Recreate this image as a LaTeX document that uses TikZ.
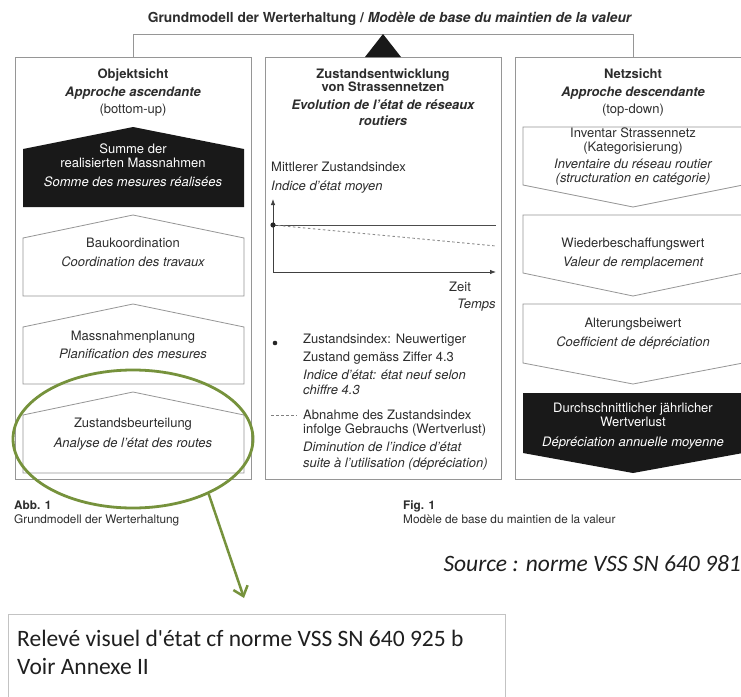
\documentclass[tikz,border=0pt]{standalone}
\usepackage{fontspec}
\setmainfont{TeX Gyre Heros}
\newfontfamily\calib{Carlito}
\usetikzlibrary{arrows.meta,shapes.geometric}
\definecolor{txt}{RGB}{45,45,45}
\definecolor{frame}{RGB}{150,150,150}
\definecolor{dark}{RGB}{25,25,25}
\definecolor{olive}{RGB}{118,146,60}
\definecolor{lightframe}{RGB}{195,195,195}
\newcommand\fsz{\fontsize{13}{15}\selectfont}
\newcommand\capsz{\fontsize{11.8}{13}\selectfont}
\tikzset{
  t/.style={inner sep=0pt, text=txt, anchor=base, yshift=-4.3pt, font=\fsz},
  tb/.style={t, font=\fsz\bfseries},
  ti/.style={t, font=\fsz\itshape},
  tbi/.style={t, font=\fsz\bfseries\itshape},
  w/.style={t, text=white},
  wi/.style={ti, text=white},
  captxt/.style={t, anchor=base west, yshift=-4pt, font=\capsz},
  captxtb/.style={captxt, font=\capsz\bfseries},
  colframe/.style={draw=frame, line width=0.9pt, minimum width=236pt, minimum height=422pt, inner sep=0pt},
  house/.style={draw=frame, line width=0.8pt, fill=white},
  darkhouse/.style={fill=dark},
  axis/.style={draw=black!75, line width=0.8pt, -{Latex[length=6pt,width=4.5pt]}},
  cal/.style={inner sep=0pt, text=black!88, anchor=base west, yshift=-6.5pt, font=\calib\fontsize{23.5}{27}\selectfont},
}
\begin{document}
\begin{tikzpicture}[x=1pt,y=-1pt]
\path[use as bounding box] (0,0) rectangle (741,696);
\clip (0,0) rectangle (741,696);
\fill[white] (0,0) rectangle (741,696);

% title
\node[tb, font=\fontsize{13.8}{16}\selectfont\bfseries, yshift=-0.3pt] (title) at (390,18)
  {Grundmodell der Werterhaltung / \textit{Modèle de base du maintien de la valeur}};

% column frames
\node[colframe] (colL) at (133,268) {};
\node[colframe] (colM) at (383,268) {};
\node[colframe] (colR) at (633,268) {};

% bracket and triangle
\coordinate (bl) at (133,34);
\coordinate (br) at (633,34);
\draw[frame, line width=0.9pt] (colL.north) -- (bl) -- (br) -- (colR.north);
\fill[dark] (383,34) -- (401,57) -- (365,57) -- cycle;

% left column houses
\path[darkhouse] (133,127) -- (244,149) -- (244,207) -- (23,207) -- (23,149) -- cycle;
\path[house] (133,215) -- (244,238) -- (244,296) -- (23,296) -- (23,238) -- cycle;
\path[house] (133,304) -- (244,327) -- (244,384) -- (23,384) -- (23,327) -- cycle;
\path[house] (133,392) -- (244,415) -- (244,473) -- (23,473) -- (23,415) -- cycle;

% right column chevrons
\path[house] (523,127) -- (743,127) -- (743,185) -- (633,207) -- (523,185) -- cycle;
\path[house] (523,215) -- (743,215) -- (743,273) -- (633,296) -- (523,273) -- cycle;
\path[house] (523,304) -- (743,304) -- (743,363) -- (633,384) -- (523,363) -- cycle;
\path[darkhouse] (523,393) -- (743,393) -- (743,453) -- (633,473) -- (523,453) -- cycle;

% left texts
\node[tb] (lh1) at (133,74) {Objektsicht};
\node[tbi] (lh2) at (133,92) {Approche ascendante};
\node[t] (lh3) at (133,109) {(bottom-up)};
\node[w] (l1a) at (133,149) {Summe der};
\node[w] (l1b) at (133,163) {realisierten Massnahmen};
\node[wi] (l1c) at (133,182) {Somme des mesures réalisées};
\node[t] (l2a) at (133,243) {Baukoordination};
\node[ti] (l2b) at (133,262) {Coordination des travaux};
\node[t] (l3a) at (133,336) {Massnahmenplanung};
\node[ti] (l3b) at (133,354) {Planification des mesures};
\node[t] (l4a) at (133,423) {Zustandsbeurteilung};
\node[ti] (l4b) at (133,443) {Analyse de l'état des routes};

% middle texts
\node[tb] (mh1) at (383,74) {Zustandsentwicklung};
\node[tb] (mh2) at (383,87) {von Strassennetzen};
\node[tbi] (mh3) at (383,105) {Evolution de l'état de réseaux};
\node[tbi] (mh4) at (383,121) {routiers};
\node[t, anchor=base west] (ya1) at (271,167) {Mittlerer Zustandsindex};
\node[ti, anchor=base west] (ya2) at (271,186) {Indice d'état moyen};
\node[t, anchor=base west] (zeit) at (449,287) {Zeit};
\node[ti, anchor=base west] (temps) at (457,304) {Temps};

% chart
\coordinate (org) at (273,272);
\coordinate (ytop) at (273,199);
\coordinate (xend) at (496,272);
\coordinate (s0) at (273,225);
\coordinate (s1) at (496,225);
\coordinate (d1) at (496,246);
\draw[axis] (org) -- (ytop);
\draw[axis] (org) -- (xend);
\draw[black!70, line width=0.8pt] (s0) -- (s1);
\draw[black!45, line width=0.9pt, dash pattern=on 2.5pt off 2.5pt] (s0) -- (d1);
\fill[black!85] (s0) circle (2.6);

% legend
\coordinate (bul) at (275,343);
\fill[black!85] (bul) circle (2.3);
\node[t, anchor=base west] (g1) at (303,339) {Zustandsindex: Neuwertiger};
\node[t, anchor=base west] (g2) at (303,357) {Zustand gemäss Ziffer 4.3};
\node[ti, anchor=base west] (g3) at (303,375) {Indice d'état: état neuf selon};
\node[ti, anchor=base west] (g4) at (303,390) {chiffre 4.3};
\coordinate (da) at (271,415);
\coordinate (db) at (297,415);
\draw[black!50, line width=0.8pt, dash pattern=on 2.5pt off 2.5pt] (da) -- (db);
\node[t, anchor=base west] (h1) at (303,415) {Abnahme des Zustandsindex};
\node[t, anchor=base west] (h2) at (303,429) {infolge Gebrauchs (Wertverlust)};
\node[ti, anchor=base west] (h3) at (303,447) {Diminution de l'indice d'état};
\node[ti, anchor=base west] (h4) at (303,463) {suite à l'utilisation (dépréciation)};

% right texts
\node[tb] (rh1) at (633,74) {Netzsicht};
\node[tbi] (rh2) at (633,92) {Approche descendante};
\node[t] (rh3) at (633,109) {(top-down)};
\node[t] (r1a) at (633,133) {Inventar Strassennetz};
\node[t] (r1b) at (633,147) {(Kategorisierung)};
\node[ti] (r1c) at (633,164) {Inventaire du réseau routier};
\node[ti] (r1d) at (633,178) {(structuration en catégorie)};
\node[t] (r2a) at (633,243) {Wiederbeschaffungswert};
\node[ti] (r2b) at (633,262) {Valeur de remplacement};
\node[t] (r3a) at (633,323) {Alterungsbeiwert};
\node[ti] (r3b) at (633,342) {Coefficient de dépréciation};
\node[w] (r4a) at (633,408) {Durchschnittlicher jährlicher};
\node[w] (r4b) at (633,422) {Wertverlust};
\node[wi] (r4c) at (633,442) {Dépréciation annuelle moyenne};

% captions
\node[captxtb] (abb) at (14,501) {Abb. 1};
\node[captxt] (abbt) at (14,515) {Grundmodell der Werterhaltung};
\node[captxtb] (fig) at (403,501) {Fig. 1};
\node[captxt] (figt) at (403,515) {Modèle de base du maintien de la valeur};

% source
\node[cal, anchor=base east, font=\calib\itshape\fontsize{23.5}{27}\selectfont] (src) at (741,565) {Source : norme VSS SN 640 981};

% green ellipse and arrow
\node[draw=olive, line width=2.8pt, ellipse, minimum width=240pt, minimum height=138pt, inner sep=0pt] (ell) at (133,439) {};
\coordinate (tip) at (244,598);
\draw[olive, line width=2.5pt, -{Straight Barb[length=9pt,width=15pt]}] (ell.324) -- (tip);

% bottom box
\node[draw=lightframe, line width=1pt, minimum width=497pt, minimum height=110pt, inner sep=0pt, anchor=north west] (rel) at (8,614) {};
\node[cal] (rel1) at (17,640) {Relevé visuel d\textquotesingle état cf norme VSS SN 640 925 b};
\node[cal] (rel2) at (17,668) {Voir Annexe II};
\end{tikzpicture}
\end{document}
